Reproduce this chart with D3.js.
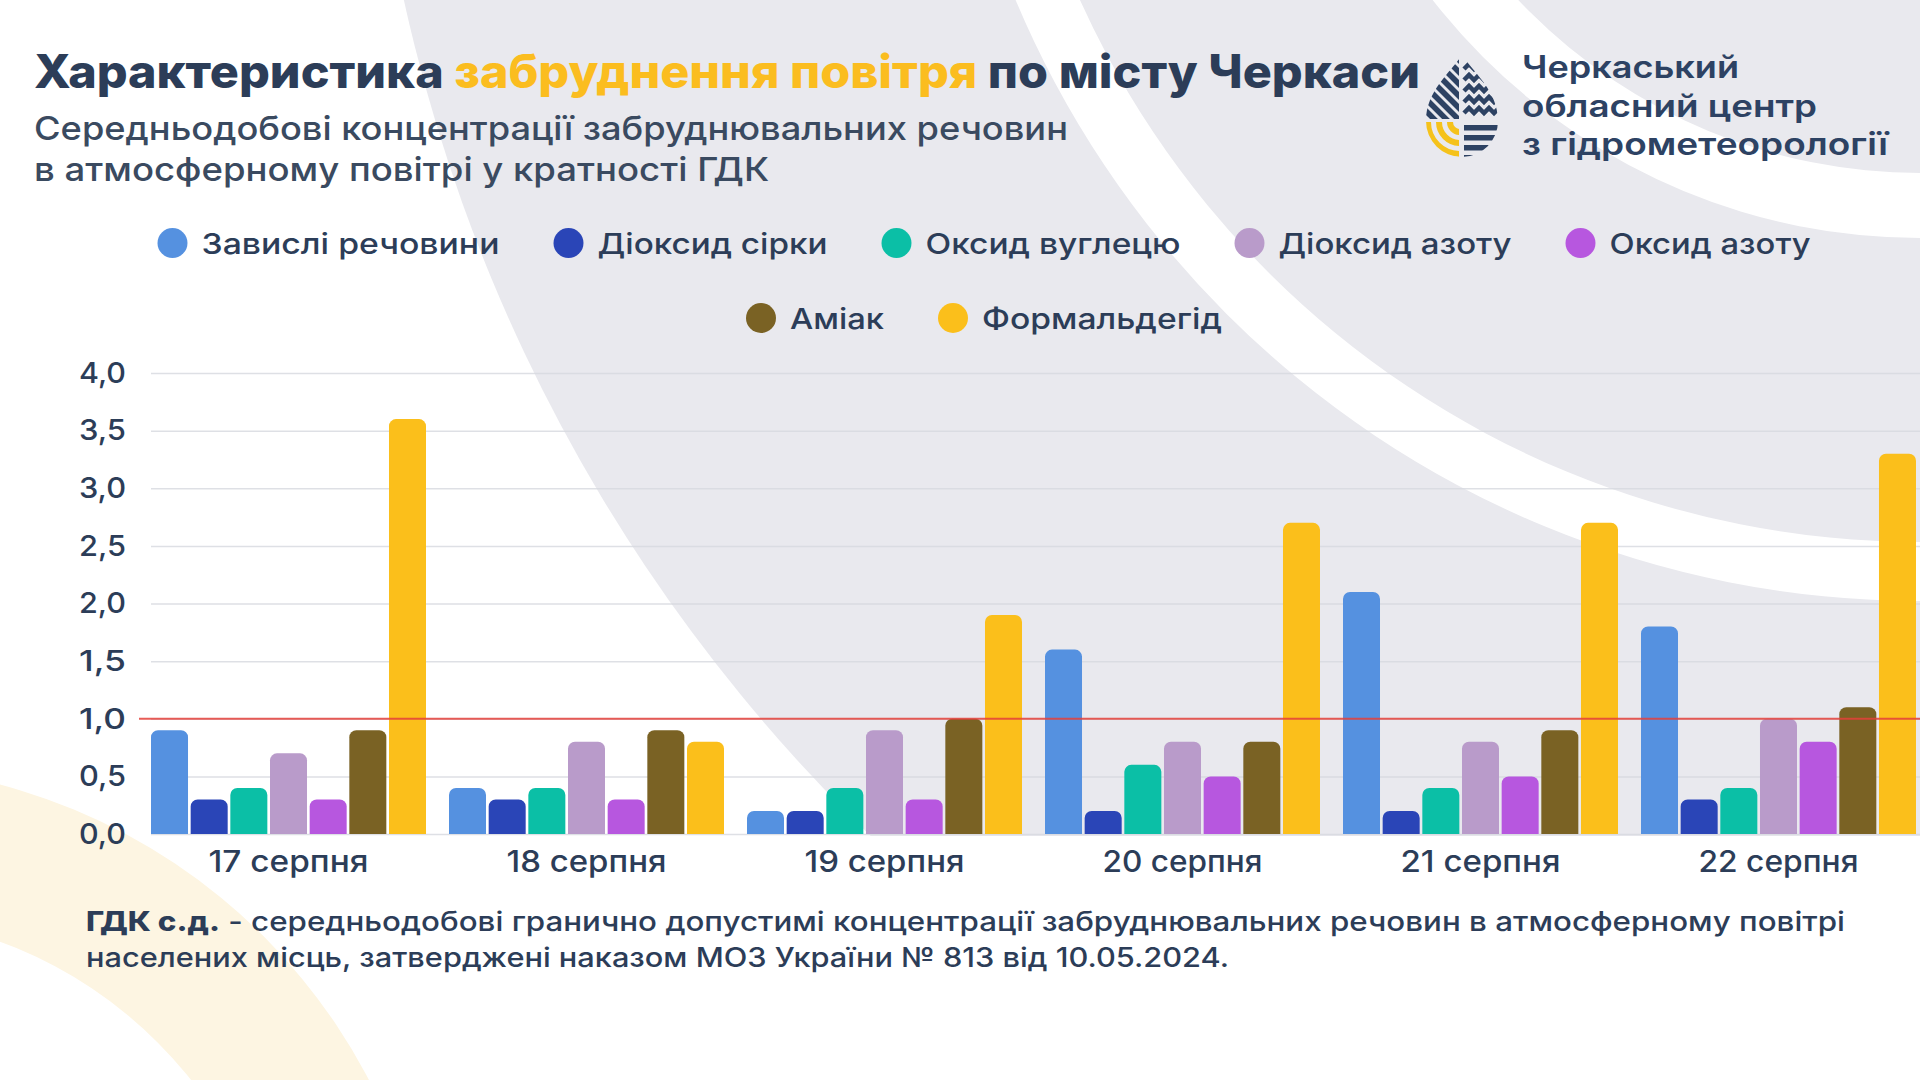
<!DOCTYPE html>
<html>
<head>
<meta charset="utf-8">
<script src="https://cdn.jsdelivr.net/npm/d3@7"></script>
<style>
  html, body { margin: 0; padding: 0; background: #fff; }
  svg { display: block; font-family: Inter, "Noto Sans", sans-serif; }
</style>
</head>
<body>
<svg id="chart" width="1920" height="1080"></svg>
<script>
// ---- data ----
var dates = ["17 серпня", "18 серпня", "19 серпня", "20 серпня", "21 серпня", "22 серпня"];
var pollutants = ["Завислі речовини", "Діоксид сірки", "Оксид вуглецю", "Діоксид азоту", "Оксид азоту", "Аміак", "Формальдегід"];
var colors = ["#5591e0", "#2a45b7", "#0bbfa6", "#b99bca", "#b757df", "#7a6224", "#fbbf1b"];

// values in multiples of the daily limit, one per date
var suspended    = [0.9, 0.4, 0.2, 1.6, 2.1, 1.8];
var so2          = [0.3, 0.3, 0.2, 0.2, 0.2, 0.3];
var co           = [0.4, 0.4, 0.4, 0.6, 0.4, 0.4];
var no2          = [0.7, 0.8, 0.9, 0.8, 0.8, 1.0];
var no           = [0.3, 0.3, 0.3, 0.5, 0.5, 0.8];
var nh3          = [0.9, 0.9, 1.0, 0.8, 0.9, 1.1];
var formaldehyde = [3.6, 0.8, 1.9, 2.7, 2.7, 3.3];

var yTicks = [0, 0.5, 1, 1.5, 2, 2.5, 3, 3.5, 4];
var limit = 1.0;

var seriesValues = [suspended, so2, co, no2, no, nh3, formaldehyde];

var ink = "#2c3d58";
var svg = d3.select("#chart");

// stretch text to a target width (the original face is wider than Inter)
function fit(sel, w) {
  sel.attr("textLength", w).attr("lengthAdjust", "spacingAndGlyphs");
  return sel;
}

// ---- background ----
var defs = svg.append("defs");
defs.append("clipPath").attr("id", "topClip")
  .append("rect").attr("x", 0).attr("y", 0).attr("width", 1920).attr("height", 836);

svg.append("rect").attr("width", 1920).attr("height", 1080).attr("fill", "#fff");

function ring(cx, cy, r0, r1) {
  var p = d3.path();
  p.moveTo(cx + r1, cy); p.arc(cx, cy, r1, 0, 2 * Math.PI);
  p.moveTo(cx + r0, cy); p.arc(cx, cy, r0, 0, 2 * Math.PI, true);
  return p.toString();
}

svg.append("path").attr("d", ring(-150, 1350, 435, 585)).attr("fill", "#fdf5e2");

var bg = svg.append("g").attr("clip-path", "url(#topClip)");
bg.append("circle").attr("cx", 2025).attr("cy", -357).attr("r", 1660).attr("fill", "#e9e9ee");
bg.append("path").attr("d", ring(1920, -380, 553, 618)).attr("fill", "#fff");
bg.append("path").attr("d", ring(1920, -380, 922, 981)).attr("fill", "#fff");

// ---- titles ----
var title = svg.append("text").attr("x", 34).attr("y", 88)
  .attr("font-size", 46).attr("font-weight", 800).attr("fill", ink);
title.append("tspan").text("Характеристика ");
title.append("tspan").attr("fill", "#fbbd1f").text("забруднення повітря");
title.append("tspan").text(" по місту Черкаси");
fit(title, 1386);

fit(svg.append("text").attr("x", 34).attr("y", 140).attr("font-size", 33).attr("font-weight", 450)
  .attr("fill", "#3a4a60").text("Середньодобові концентрації забруднювальних речовин"), 1034);
fit(svg.append("text").attr("x", 34).attr("y", 181).attr("font-size", 33).attr("font-weight", 450)
  .attr("fill", "#3a4a60").text("в атмосферному повітрі у кратності ГДК"), 735);

// ---- logo ----
var logo = svg.append("g").attr("transform", "translate(1462,121)");
var drop = "M0,-66 C12,-48 36,-30 36,0 A36,36 0 0 1 -36,0 C-36,-30 -12,-48 0,-66 Z";
defs.append("clipPath").attr("id", "dropClip").append("path").attr("d", drop);
var lg = logo.append("g").attr("clip-path", "url(#dropClip)");
var navy = "#2d4263";
defs.append("clipPath").attr("id", "qtl").append("rect").attr("x", -40).attr("y", -70).attr("width", 37).attr("height", 68);
var qtl = lg.append("g").attr("clip-path", "url(#qtl)");
for (var i = -8; i <= 8; i++) {
  qtl.append("line").attr("x1", -60 + i * 12).attr("y1", -70).attr("x2", 10 + i * 12).attr("y2", 0)
    .attr("stroke", navy).attr("stroke-width", 5.5);
}
defs.append("clipPath").attr("id", "qbl").append("rect").attr("x", -40).attr("y", 1).attr("width", 37).attr("height", 40);
var qbl = lg.append("g").attr("clip-path", "url(#qbl)");
[10, 21, 32].forEach(function (r) {
  qbl.append("circle").attr("cx", -2).attr("cy", 1).attr("r", r).attr("fill", "none")
    .attr("stroke", "#f5c21b").attr("stroke-width", 6);
});
[-52, -41, -30, -19, -8].forEach(function (yy) {
  lg.append("path").attr("d", "M2," + yy + " l5,-5 l5,5 l5,-5 l5,5 l5,-5 l5,5 l5,-5 l5,5")
    .attr("fill", "none").attr("stroke", navy).attr("stroke-width", 4.5);
});
[4, 14, 24, 34].forEach(function (yy) {
  lg.append("rect").attr("x", 2).attr("y", yy).attr("width", 40).attr("height", 5.5).attr("fill", navy);
});

var logoLines = ["Черкаський", "обласний центр", "з гідрометеорології"];
var logoW = [217, 295, 366];
var logoY = [78, 117, 155];
logoLines.forEach(function (t, k) {
  fit(svg.append("text").attr("x", 1522).attr("y", logoY[k]).attr("font-size", 31)
    .attr("font-weight", 600).attr("fill", navy).text(t), logoW[k]);
});

// ---- legend ----
var legendTextW = [298, 230, 255, 233, 201, 94, 240];
var legendRows = [[0, 1, 2, 3, 4], [5, 6]];
var legendY = [243, 318];
legendRows.forEach(function (row, ri) {
  var total = 0;
  row.forEach(function (k, j) { total += 30 + 14 + legendTextW[k] + (j ? 54 : 0); });
  var cx = 984 - total / 2;
  row.forEach(function (k, j) {
    if (j) cx += 54;
    var g = svg.append("g").attr("transform", "translate(" + cx + "," + legendY[ri] + ")");
    g.append("circle").attr("cx", 15).attr("cy", 0).attr("r", 15).attr("fill", colors[k]);
    fit(g.append("text").attr("x", 44).attr("y", 11).attr("font-size", 29).attr("font-weight", 500)
      .attr("fill", ink).text(pollutants[k]), legendTextW[k]);
    cx += 44 + legendTextW[k];
  });
});

// ---- chart ----
var y = d3.scaleLinear().domain([0, 4]).range([834, 373]);
var x0 = d3.scaleBand().domain(dates).range([139, 1928]).paddingInner(0.0772).paddingOuter(0.0403);
var x1 = d3.scaleBand().domain(pollutants).range([0, x0.bandwidth()]).paddingInner(0.067);

var grid = svg.append("g").attr("transform", "translate(" + x0(dates[0]) + ",0)")
  .call(d3.axisLeft(y).tickValues(yTicks).tickSize(-(1920 - x0(dates[0]))).tickFormat(""));
grid.select(".domain").remove();
grid.selectAll("line").attr("stroke", "#d6d8df").attr("stroke-width", 1.5).attr("opacity", 0.8);

var yAxis = svg.append("g").attr("transform", "translate(140,0)")
  .call(d3.axisLeft(y).tickValues(yTicks).tickSize(0).tickPadding(14)
    .tickFormat(function (d) { return d3.format(".1f")(d).replace(".", ","); }));
yAxis.select(".domain").remove();
yAxis.selectAll("text").attr("font-size", 29).attr("font-weight", 500).attr("fill", ink)
  .attr("font-family", "Inter, sans-serif").attr("textLength", 47).attr("lengthAdjust", "spacingAndGlyphs");

function topRounded(x, yTop, w, h, r) {
  r = Math.min(r, h, w / 2);
  return "M" + x + "," + (yTop + h) + "V" + (yTop + r) +
    "A" + r + "," + r + " 0 0 1 " + (x + r) + "," + yTop +
    "H" + (x + w - r) + "A" + r + "," + r + " 0 0 1 " + (x + w) + "," + (yTop + r) +
    "V" + (yTop + h) + "Z";
}

var groups = svg.append("g").selectAll("g").data(dates).enter().append("g")
  .attr("transform", function (d) { return "translate(" + x0(d) + ",0)"; });
groups.selectAll("path")
  .data(function (d, di) {
    return pollutants.map(function (p, k) { return { key: p, k: k, value: seriesValues[k][di] }; });
  })
  .enter().append("path")
  .attr("fill", function (d) { return colors[d.k]; })
  .attr("d", function (d) {
    return topRounded(x1(d.key), y(d.value), x1.bandwidth(), y(0) - y(d.value), 7);
  });

svg.append("line").attr("x1", 139).attr("x2", 1920).attr("y1", y(limit)).attr("y2", y(limit))
  .attr("stroke", "#e5403a").attr("stroke-width", 2).attr("opacity", 0.85);

var xAxis = svg.append("g").attr("transform", "translate(0," + y(0) + ")")
  .call(d3.axisBottom(x0).tickSize(0).tickPadding(17));
xAxis.select(".domain").remove();
xAxis.selectAll("text").attr("font-size", 30).attr("font-weight", 500).attr("fill", ink)
  .attr("font-family", "Inter, sans-serif").attr("textLength", 160).attr("lengthAdjust", "spacingAndGlyphs");

// ---- footnote ----
var f1 = svg.append("text").attr("x", 86).attr("y", 931).attr("font-size", 27).attr("font-weight", 500).attr("fill", ink);
f1.append("tspan").attr("font-weight", 800).text("ГДК с.д.");
f1.append("tspan").text(" - середньодобові гранично допустимі концентрації забруднювальних речовин в атмосферному повітрі");
fit(f1, 1759);
fit(svg.append("text").attr("x", 86).attr("y", 967).attr("font-size", 27).attr("font-weight", 500).attr("fill", ink)
  .text("населених місць, затверджені наказом МОЗ України № 813 від 10.05.2024."), 1143);
</script>
</body>
</html>
